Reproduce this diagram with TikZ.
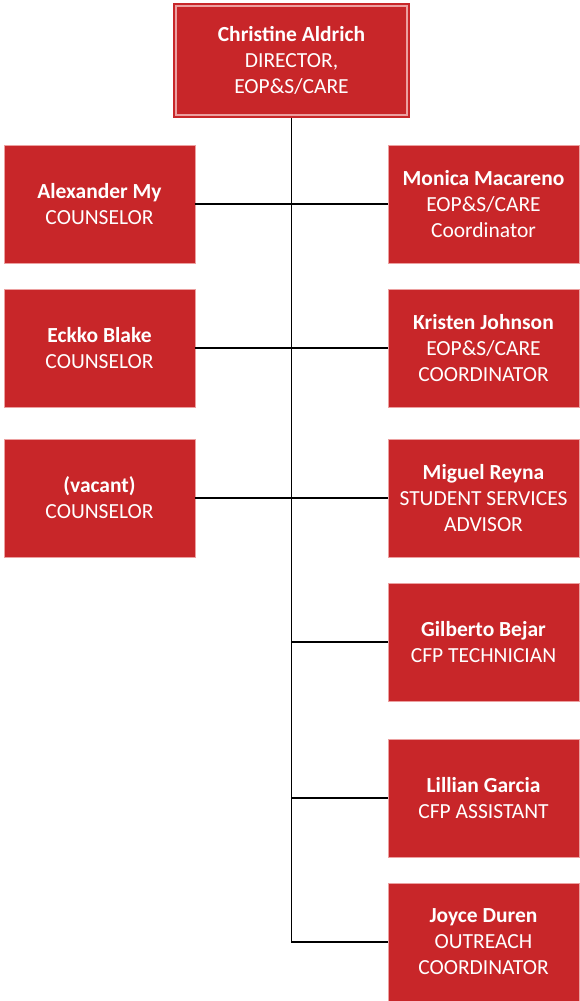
\documentclass[tikz,border=0pt]{standalone}
\usepackage{fontspec}
\setmainfont{Carlito}
\usepackage{tikz}
\usepackage{xcolor}
\definecolor{boxred}{RGB}{200,38,41}
\definecolor{boxrim}{RGB}{236,160,160}
\tikzset{
  orgnode/.style = {align=center, inner sep=0pt, text centered,
    font=\fontsize{21.5}{26}\selectfont, text=white, fill=boxred},
  head/.style = {orgnode, draw=boxrim, line width=1.2pt,
    preaction={draw=boxred, line width=6pt},
    minimum width=231pt, minimum height=109pt, outer sep=3pt},% directrice
  staff/.style = {orgnode, draw=boxrim, line width=0.4pt,
    minimum width=190.5pt, minimum height=117.5pt},% personnel
  link/.style = {draw=black, line width=1.2pt}
}
\begin{document}
\begin{tikzpicture}[x=1pt,y=-1pt]
\useasboundingbox (0,0) rectangle (579,1001);
\node [head] (aldrich) at (291.5,60.5) {\textbf{Christine Aldrich}\\DIRECTOR,\\EOP\&S/CARE};
% left column
\node [staff] (my) at (99.5,204) {\textbf{Alexander My}\\COUNSELOR};
\node [staff] (blake) at (99.5,348) {\textbf{Eckko Blake}\\COUNSELOR};
\node [staff] (vacant) at (99.5,498) {\textbf{(vacant)}\\COUNSELOR};
% right column
\node [staff] (macareno) at (483.5,204) {\textbf{Monica Macareno}\\EOP\&S/CARE\\Coordinator};
\node [staff] (johnson) at (483.5,348) {\textbf{Kristen Johnson}\\EOP\&S/CARE\\COORDINATOR};
\node [staff] (reyna) at (483.5,498) {\textbf{Miguel Reyna}\\STUDENT SERVICES\\ADVISOR};
\node [staff] (bejar) at (483.5,642) {\textbf{Gilberto Bejar}\\CFP TECHNICIAN};
\node [staff] (garcia) at (483.5,798) {\textbf{Lillian Garcia}\\CFP ASSISTANT};
\node [staff] (duren) at (483.5,942) {\textbf{Joyce Duren}\\OUTREACH\\COORDINATOR};
\coordinate (trunkend) at (duren.west -| aldrich.south);
\draw [link] (aldrich.south) -- (trunkend) -- (duren.west);
\draw [link] (my.east) -- (macareno.west);
\draw [link] (blake.east) -- (johnson.west);
\draw [link] (vacant.east) -- (reyna.west);
\draw [link] (bejar.west -| aldrich.south) -- (bejar.west);
\draw [link] (garcia.west -| aldrich.south) -- (garcia.west);
\end{tikzpicture}
\end{document}
